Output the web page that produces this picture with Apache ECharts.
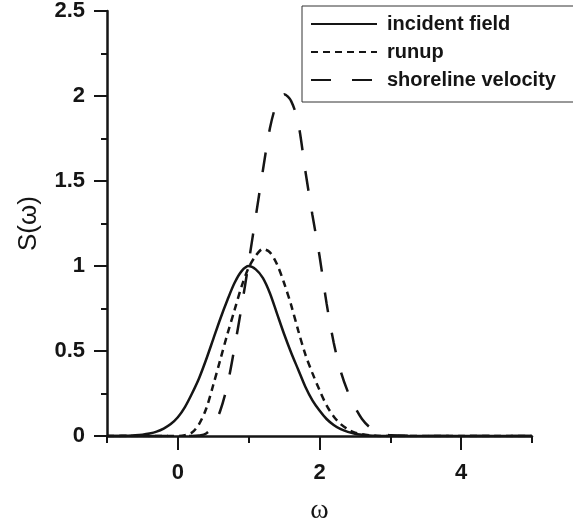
<!DOCTYPE html>
<html>
<head>
<meta charset="utf-8">
<script src="https://cdn.jsdelivr.net/npm/echarts@6/dist/echarts.min.js"></script>
<style>
  html, body { margin: 0; padding: 0; background: #fff; }
  #chart { width: 573px; height: 525px; }
</style>
</head>
<body>
<div id="chart"></div>
<script>
// frequency axis
const omega = [-1.0, -0.9, -0.8, -0.7, -0.6, -0.5, -0.4, -0.3, -0.2, -0.1,
  0.0, 0.1, 0.2, 0.3, 0.4, 0.5, 0.6, 0.7, 0.8, 0.9,
  1.0, 1.1, 1.2, 1.3, 1.4, 1.5, 1.6, 1.7, 1.8, 1.9,
  2.0, 2.1, 2.2, 2.3, 2.4, 2.5, 2.6, 2.7, 2.8, 2.9,
  3.0, 3.5, 4.0, 4.5, 5.0];

// S(ω)
const incident = [0, 0, 0.001, 0.002, 0.004, 0.008, 0.015, 0.026, 0.044, 0.07,
  0.11, 0.17, 0.25, 0.34, 0.45, 0.57, 0.69, 0.80, 0.90, 0.97,
  1.00, 0.98, 0.93, 0.84, 0.72, 0.60, 0.49, 0.39, 0.29, 0.21,
  0.15, 0.10, 0.065, 0.04, 0.024, 0.013, 0.007, 0.003, 0.001, 0,
  0, 0, 0, 0, 0];
const runup = [0, 0, 0, 0, 0, 0, 0, 0, 0, 0,
  0, 0.005, 0.02, 0.07, 0.16, 0.30, 0.45, 0.60, 0.74, 0.88,
  0.99, 1.06, 1.10, 1.08, 1.01, 0.90, 0.77, 0.62, 0.48, 0.37,
  0.27, 0.18, 0.115, 0.07, 0.04, 0.02, 0.01, 0.004, 0.001, 0,
  0, 0, 0, 0, 0];
const shoreline = [0, 0, 0, 0, 0, 0, 0, 0, 0, 0,
  0, 0, 0, 0.003, 0.015, 0.06, 0.15, 0.30, 0.52, 0.76,
  1.02, 1.29, 1.56, 1.81, 1.96, 2.01, 1.97, 1.84, 1.56, 1.30,
  1.06, 0.78, 0.55, 0.38, 0.26, 0.17, 0.10, 0.055, 0.03, 0.012,
  0.004, 0, 0, 0, 0];

const seriesNames = ['incident field', 'runup', 'shoreline velocity'];
const xLabelTicks = [0, 2, 4];
const xMinorTicks = [-1, 1, 3, 5];

const chart = echarts.init(document.getElementById('chart'));

const pairs = arr => omega.map((w, i) => [w, arr[i]]);
const ink = '#151515';
const labelFont = { fontFamily: 'Liberation Sans, Arial, sans-serif', fontWeight: 'bold', fontSize: 22, color: ink };

const option = {
  animation: false,
  backgroundColor: '#fff',
  grid: { left: 107, right: 41, top: 11, bottom: 89, containLabel: false, outerBoundsMode: 'none' },
  legend: {
    orient: 'vertical',
    left: 302,
    top: 6,
    padding: [8, 40, 12, 8],
    itemGap: 8,
    itemWidth: 66,
    itemHeight: 14,
    backgroundColor: '#fff',
    borderColor: '#333',
    borderWidth: 1,
    borderRadius: 0,
    itemStyle: { opacity: 0 },
    textStyle: {
      fontFamily: 'Liberation Sans, Arial, sans-serif',
      fontWeight: 'bold',
      fontSize: 20,
      color: ink,
      padding: [0, 0, 0, 5]
    },
    data: seriesNames
  },
  xAxis: [
    {
      type: 'value',
      min: -1,
      max: 5,
      interval: 1,
      name: 'ω',
      nameLocation: 'middle',
      nameGap: 61,
      nameTextStyle: { fontFamily: 'Liberation Serif, Times New Roman, serif', fontSize: 28, color: ink },
      axisLine: { onZero: false, lineStyle: { color: ink, width: 2.5 } },
      axisTick: { customValues: xLabelTicks, length: 14, lineStyle: { color: ink, width: 2 } },
      axisLabel: { customValues: xLabelTicks, margin: 26, ...labelFont },
      splitLine: { show: false }
    },
    {
      type: 'value',
      min: -1,
      max: 5,
      interval: 1,
      position: 'bottom',
      axisLine: { show: false },
      axisTick: { customValues: xMinorTicks, length: 7, lineStyle: { color: ink, width: 2 } },
      axisLabel: { show: false },
      splitLine: { show: false }
    }
  ],
  yAxis: {
    type: 'value',
    min: 0,
    max: 2.5,
    interval: 0.5,
    name: 'S(ω)',
    nameLocation: 'middle',
    nameGap: 65,
    nameTextStyle: { fontFamily: 'Liberation Sans, Arial, sans-serif', fontSize: 26, color: ink },
    axisLine: { show: true, onZero: false, lineStyle: { color: ink, width: 2.5 } },
    axisTick: { length: 13, lineStyle: { color: ink, width: 2 } },
    minorTick: { show: true, splitNumber: 2, length: 6, lineStyle: { color: ink, width: 2 } },
    axisLabel: { margin: 22, ...labelFont },
    splitLine: { show: false }
  },
  series: [
    {
      name: seriesNames[0],
      type: 'line',
      data: pairs(incident),
      symbol: 'none',
      smooth: 0.3,
      lineStyle: { color: ink, width: 2.5, type: 'solid' },
      itemStyle: { color: ink }
    },
    {
      name: seriesNames[1],
      type: 'line',
      data: pairs(runup),
      symbol: 'none',
      smooth: 0.3,
      lineStyle: { color: ink, width: 2.5, type: [7, 5] },
      itemStyle: { color: ink }
    },
    {
      name: seriesNames[2],
      type: 'line',
      data: pairs(shoreline),
      symbol: 'none',
      smooth: 0.3,
      lineStyle: { color: ink, width: 2.5, type: [20, 21] },
      itemStyle: { color: ink }
    }
  ]
};

chart.setOption(option);
window.addEventListener('resize', () => chart.resize());
</script>
</body>
</html>
